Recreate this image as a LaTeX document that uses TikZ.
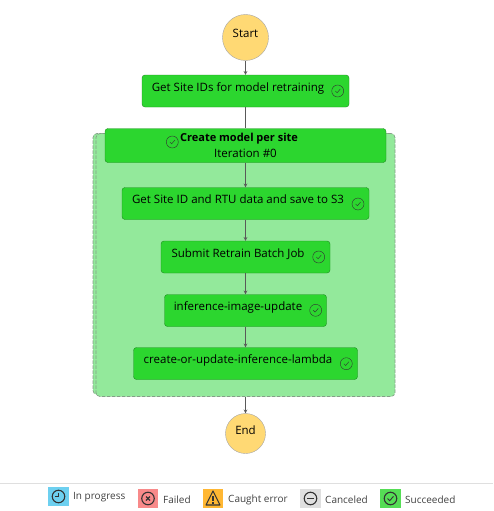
\documentclass[tikz,border=0pt]{standalone}
\usepackage{fontspec}
\setmainfont{Open Sans}
\definecolor{stepgreen}{HTML}{2CD62F}
\definecolor{mapgreen}{HTML}{93E99B}
\definecolor{startyellow}{HTML}{FFD974}
\definecolor{legendblue}{HTML}{6DD0F0}
\definecolor{legendred}{HTML}{F88A8A}
\definecolor{legendorange}{HTML}{FFB733}
\definecolor{legendgreen}{HTML}{55DD55}
\newcommand{\steptext}[1]{\raisebox{8pt}{#1}\kern15pt}
\begin{document}
\begin{tikzpicture}[x=1pt, y=-1pt, every node/.style={font=\fontsize{11.5}{14}\selectfont},
			terminal/.style={circle, draw=gray!70, fill=startyellow, inner sep=0pt},
			stepbox/.style={draw=black!35!stepgreen, fill=stepgreen, rounded corners=3pt, minimum height=32pt, inner sep=0pt},
			mapbox/.style={draw=gray!70!mapgreen, dash pattern=on 3.5pt off 1.5pt, line width=0.7pt, fill=mapgreen, rounded corners=4pt, inner sep=0pt},
			tickring/.style={circle, draw=black!80, minimum size=12pt, inner sep=0pt},
			tickline/.style={black!80, line width=0.4pt},
			flow/.style={draw=black!65, line width=0.7pt},
			legendbox/.style={minimum width=20.5pt, minimum height=19pt, inner sep=0pt},
			legendtext/.style={anchor=west, text=black!75, inner sep=0pt, font=\fontsize{10}{12}\selectfont},
			legendring/.style={circle, draw=black!80, line width=1.1pt, minimum size=12.5pt, inner sep=0pt},
			legendline/.style={black!80, line width=1.1pt}]
		\useasboundingbox (0,0) rectangle (493,511);

		% map state behind the steps
		\node[mapbox, minimum width=299pt, minimum height=261pt] (mapback) at (242.5,264) {};
		\node[mapbox, minimum width=299pt, minimum height=263pt] (map) at (245.5,265) {};

		\node[terminal, minimum size=46pt] (start) at (245.5,37.5) {\raisebox{9pt}{Start}};
		\node[stepbox, minimum width=207pt] (sites) at (245.5,91) {\steptext{Get Site IDs for model retraining}};
		\node[stepbox, minimum width=281pt, minimum height=34pt, align=center] (permodel) at (245.5,145.5)
			{\hspace*{-13pt}{\fontsize{11}{14}\selectfont\textbf{Create model per site}}\\[2.5pt]Iteration \#0};
		\node[stepbox, minimum width=247pt] (rtudata) at (245.5,203.5) {\steptext{Get Site ID and RTU data and save to S3}};
		\node[stepbox, minimum width=169pt] (retrain) at (245.5,257) {\steptext{Submit Retrain Batch Job}};
		\node[stepbox, minimum width=162pt] (image) at (245.5,310.5) {\steptext{inference-image-update}};
		\node[stepbox, minimum width=224pt] (lambda) at (245.5,363.5) {\steptext{create-or-update-inference-lambda}};
		\node[terminal, minimum size=40pt] (end) at (245.5,433.5) {\raisebox{7pt}{End}};

		\draw[flow, -stealth] (start) -- (sites);
		\draw[flow] (sites) -- (permodel);
		\draw[flow, -stealth] (permodel) -- (rtudata);
		\draw[flow, -stealth] (rtudata) -- (retrain);
		\draw[flow, -stealth] (retrain) -- (image);
		\draw[flow, -stealth] (image) -- (lambda);
		\draw[flow, -stealth] (map) -- (end);

		% ticks on the steps
		\foreach \tick/\x/\y in {sitestick/337.7/91, permodeltick/172.3/142, rtutick/358/204,
				retraintick/318.7/257, imagetick/315.7/310.3, lambdatick/346.3/363.7} {
			\node[tickring] (\tick) at (\x,\y) {};
			\draw[tickline] ([shift={(-2.4,0)}]\tick.center) -- ([shift={(-0.6,1.8)}]\tick.center) -- ([shift={(2.6,-2)}]\tick.center);
		}

		% legend
		\draw[gray!25, line width=1pt] (0,483.5) -- (493,483.5);
		\node[legendbox, fill=legendblue] (progressbox) at (58.5,496.5) {};
		\node[legendbox, fill=legendred] (failedbox) at (148,498.5) {};
		\node[legendbox, fill=legendorange] (caughtbox) at (213,498.5) {};
		\node[legendbox, fill=gray!25] (canceledbox) at (310.5,498.5) {};
		\node[legendbox, fill=legendgreen] (succeededbox) at (390.5,498.5) {};

		\node[legendtext] (progresstext) at (73,497) {In progress};
		\node[legendtext] (failedtext) at (163,500) {Failed};
		\node[legendtext] (caughttext) at (228,500) {Caught error};
		\node[legendtext] (canceledtext) at (325,500) {Canceled};
		\node[legendtext] (succeededtext) at (405,500) {Succeeded};

		\node[legendring] (progressring) at (progressbox) {};
		\draw[legendline] ([shift={(0,-4)}]progressring.center) -- (progressring.center) -- ([shift={(-3.5,0)}]progressring.center);
		\node[legendring] (failedring) at (failedbox) {};
		\draw[legendline] ([shift={(-2,-2)}]failedring.center) -- ([shift={(2,2)}]failedring.center);
		\draw[legendline] ([shift={(-2,2)}]failedring.center) -- ([shift={(2,-2)}]failedring.center);
		\draw[legendline, line join=round] ([shift={(0,-7.5)}]caughtbox.center) -- ([shift={(7,6.5)}]caughtbox.center) -- ([shift={(-7,6.5)}]caughtbox.center) -- cycle;
		\draw[legendline] ([shift={(0,-2.5)}]caughtbox.center) -- ([shift={(0,2.5)}]caughtbox.center);
		\draw[legendline] ([shift={(0,3.5)}]caughtbox.center) -- ([shift={(0,5)}]caughtbox.center);
		\node[legendring] (canceledring) at (canceledbox) {};
		\draw[legendline] ([shift={(-3.5,0)}]canceledring.center) -- ([shift={(3.5,0)}]canceledring.center);
		\node[legendring] (succeededring) at (succeededbox) {};
		\draw[legendline, line width=0.9pt] ([shift={(-3,0)}]succeededring.center) -- ([shift={(-0.8,2.2)}]succeededring.center) -- ([shift={(3,-2.2)}]succeededring.center);
	\end{tikzpicture}
\end{document}
